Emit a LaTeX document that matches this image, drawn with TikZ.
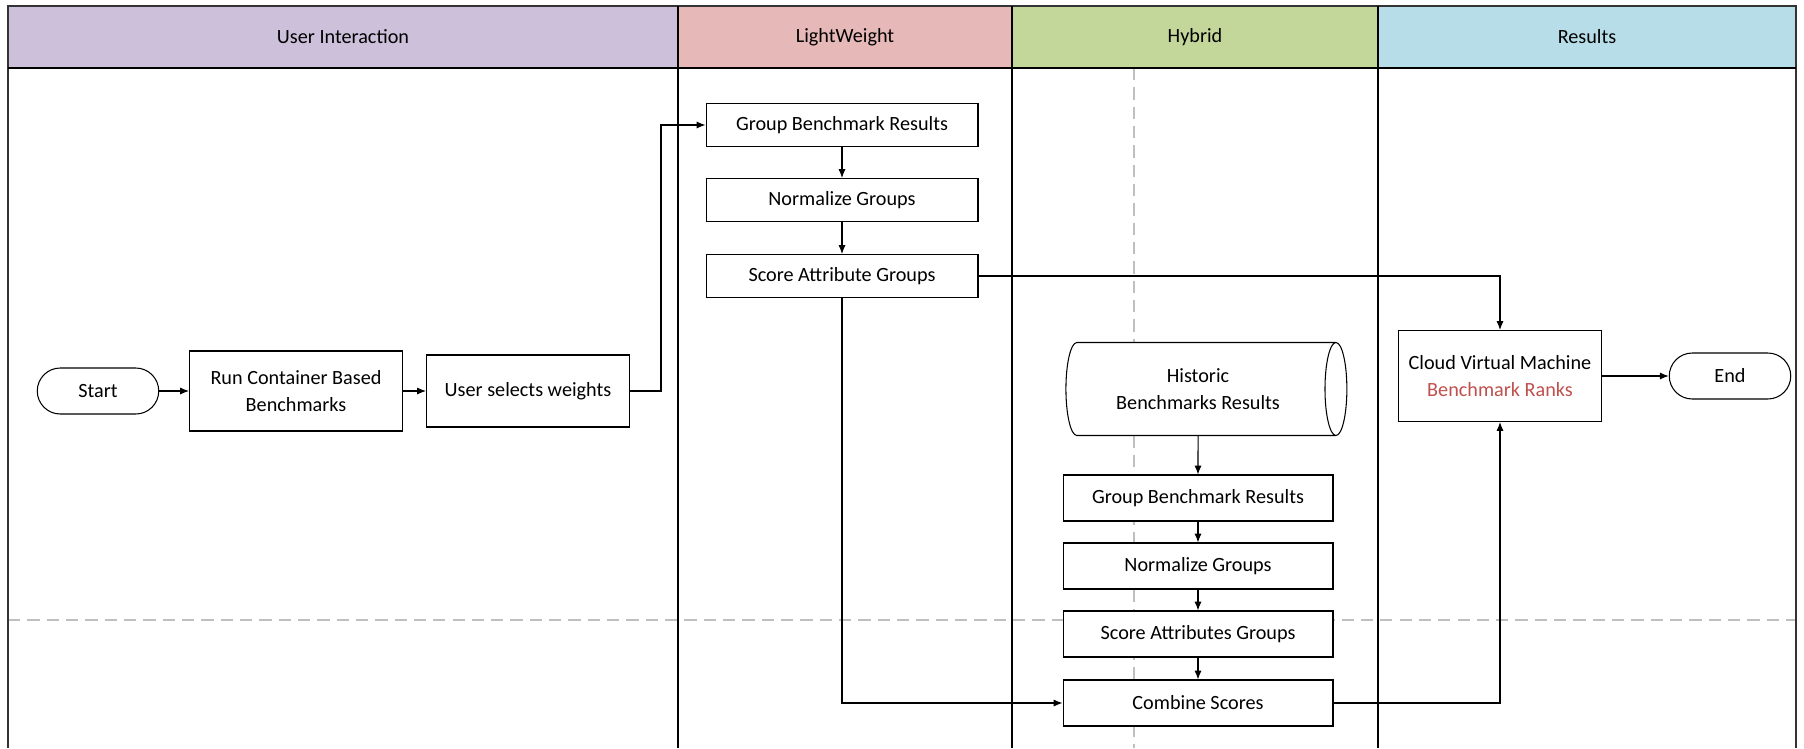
\documentclass[tikz,border=0pt]{standalone}
\usepackage{fontspec}
\setmainfont{Carlito}
\usepackage{tikz}
\usetikzlibrary{arrows.meta,shapes.geometric}

\definecolor{laneuser}{HTML}{CCC0DA}
\definecolor{lanelight}{HTML}{E6B8B7}
\definecolor{lanehybrid}{HTML}{C4D79B}
\definecolor{laneresult}{HTML}{B7DEE8}
\definecolor{rankred}{HTML}{C0504D}

\begin{document}
\begin{tikzpicture}[x=0.02cm,y=-0.02cm,
    font=\fontsize{11.5}{15}\selectfont,
    proc/.style={draw,fill=white,line width=0.6pt,align=center,inner sep=2pt},
    term/.style={draw,fill=white,line width=0.6pt,rounded corners=0.46cm,
      minimum width=2.43cm,minimum height=0.92cm},
    lwbox/.style={proc,minimum width=5.44cm,minimum height=0.86cm},
    hybox/.style={proc,minimum width=5.4cm,minimum height=0.92cm},
    arr/.style={-{Latex[length=5pt,width=4pt]},line width=0.6pt}]
  \useasboundingbox (0,0) rectangle (1804,748);
  % swimlane headers
  \foreach \a/\b/\c/\t [count=\i] in {8/678/laneuser/User Interaction,
      678/1012/lanelight/LightWeight,1012/1378/lanehybrid/Hybrid,
      1378/1796/laneresult/Results}{
    \fill[\c] (\a,6) rectangle (\b,68);
    \node (head\i) at ({(\a+\b)/2},37) {\t};
  }
  % guide lines
  \draw[black!25,line width=0.6pt,dash pattern=on 7pt off 4pt] (8,620) -- (1796,620);
  \draw[black!25,line width=0.6pt,dash pattern=on 7pt off 4pt] (1134,68) -- (1134,748);
  % lanes
  \draw[line width=0.9pt,black!80] (8,748) -- (8,6) -- (1796,6) -- (1796,748);
  \draw[line width=0.8pt] (8,68) -- (1796,68);
  \foreach \x in {678,1012,1378}{\draw[line width=0.8pt] (\x,6) -- (\x,748);}

  % user interaction
  \node[term] (start) at (98,391) {Start};
  \node[proc,minimum width=4.26cm,minimum height=1.6cm] (run) at (296,391)
    {Run Container Based\\Benchmarks};
  \node[proc,minimum width=4.06cm,minimum height=1.44cm] (select) at (528,391)
    {User selects weights};

  % lightweight
  \node[lwbox] (lgroup) at (842,125) {Group Benchmark Results};
  \node[lwbox] (lnorm) at (842,200) {Normalize Groups};
  \node[lwbox] (lscore) at (842,276) {Score Attribute Groups};

  % hybrid
  \node[cylinder,draw,fill=white,line width=0.6pt,align=center,shape aspect=0.42,
    minimum width=1.86cm,minimum height=5.62cm] (hist) at (1198,389)
    {Historic\\Benchmarks Results};
  \node[hybox] (hgroup) at (1198,498) {Group Benchmark Results};
  \node[hybox] (hnorm) at (1198,566) {Normalize Groups};
  \node[hybox] (hscore) at (1198,634) {Score Attributes Groups};
  \node[hybox] (combine) at (1198,703) {Combine Scores};

  % results
  \node[proc,minimum width=4.06cm,minimum height=1.82cm] (ranks) at (1500,376)
    {Cloud Virtual Machine\\\textcolor{rankred}{Benchmark Ranks}};
  \node[term] (finish) at (1730,376) {End};

  \draw[arr] (start) -- (run);
  \draw[arr] (run) -- (select);
  \draw[arr] (select.east) -- ++(31,0) |- (lgroup.west);
  \draw[arr] (lgroup) -- (lnorm);
  \draw[arr] (lnorm) -- (lscore);
  \draw[arr] (lscore.east) -| (ranks.north);
  \draw[arr] (lscore.south) |- (combine.west);
  \draw[arr] (hist) -- (hgroup);
  \draw[arr] (hgroup) -- (hnorm);
  \draw[arr] (hnorm) -- (hscore);
  \draw[arr] (hscore) -- (combine);
  \draw[arr] (combine.east) -| (ranks.south);
  \draw[arr] (ranks) -- (finish);
\end{tikzpicture}
\end{document}
